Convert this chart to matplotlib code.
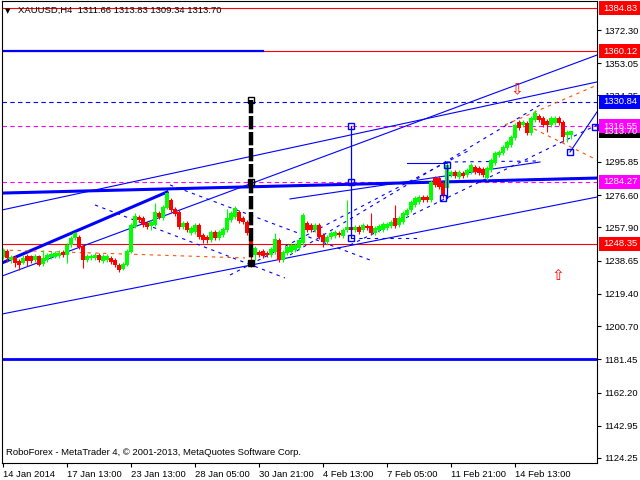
import matplotlib
matplotlib.use("Agg")
import matplotlib.pyplot as plt
from matplotlib.patches import Rectangle

# ---------------- data (XAUUSD H4) ----------------
opens = [1240.7,1244.2,1239.0,1240.7,1238.4,1237.3,1241.3,1241.3,1239.0,1241.3,
         1236.7,1239.0,1240.7,1240.7,1241.3,1243.6,1241.9,1247.7,1251.8,1252.3,
         1247.1,1239.0,1240.2,1240.2,1241.9,1238.4,1239.0,1240.2,1239.0,1236.1,
         1233.8,1236.1,1243.6,1258.1,1263.9,1263.3,1260.5,1258.7,1259.3,1266.2,
         1263.3,1269.1,1273.8,1268.6,1266.8,1258.1,1260.5,1254.7,1255.2,1259.3,
         1253.5,1252.3,1250.6,1255.2,1251.8,1253.5,1256.4,1262.2,1263.9,1266.8,
         1263.3,1261.0,1254.7,1241.9,1243.6,1244.2,1243.1,1241.9,1243.6,1250.6,
         1239.0,1243.1,1243.6,1244.8,1246.0,1248.9,1260.5,1259.3,1256.4,1259.3,
         1253.5,1249.4,1252.3,1252.9,1254.7,1252.9,1256.4,1258.1,1256.4,1258.1,
         1256.4,1258.7,1258.7,1254.7,1256.4,1256.4,1257.6,1258.7,1263.3,1259.3,
         1261.0,1265.1,1268.0,1270.9,1272.6,1275.5,1275.5,1273.8,1286.5,1286.5,
         1283.6,1280.7,1288.3,1290.0,1287.1,1289.4,1288.3,1290.0,1292.9,1292.3,
         1291.7,1286.5,1291.2,1295.2,1299.9,1301.0,1303.9,1305.7,1309.7,1319.0,
         1317.3,1318.4,1312.6,1320.1,1322.5,1321.3,1319.6,1317.3,1318.4,1321.3,
         1319.0,1311.5,1311.66]
closes = [1244.8,1240.2,1240.7,1237.3,1236.1,1240.2,1238.4,1238.4,1241.3,1236.1,
          1240.2,1241.9,1242.5,1243.1,1243.1,1241.9,1247.7,1251.8,1254.7,1246.5,
          1239.0,1241.3,1241.3,1241.9,1239.0,1241.3,1241.3,1237.8,1236.1,1233.2,
          1236.7,1244.2,1259.3,1264.5,1262.2,1259.3,1258.1,1261.0,1266.8,1263.9,
          1269.7,1277.8,1268.0,1265.7,1258.1,1260.5,1256.4,1257.6,1259.3,1252.3,
          1250.6,1250.6,1255.2,1251.8,1255.2,1257.0,1263.3,1266.2,1269.1,1261.6,
          1261.0,1254.7,1240.7,1246.0,1241.9,1241.3,1241.9,1245.4,1251.2,1239.0,
          1243.6,1246.5,1247.7,1247.7,1250.6,1265.1,1256.4,1256.4,1259.3,1252.3,
          1249.4,1252.3,1254.7,1255.2,1253.5,1256.4,1258.1,1256.4,1258.1,1255.2,
          1259.3,1257.6,1254.7,1257.6,1258.7,1259.9,1259.9,1261.0,1258.7,1263.3,
          1266.2,1268.0,1272.6,1274.9,1275.5,1273.8,1273.8,1284.2,1282.5,1281.3,
          1276.7,1294.1,1290.0,1287.7,1290.0,1287.7,1291.2,1294.1,1290.0,1289.4,
          1288.3,1292.3,1297.0,1301.0,1301.6,1304.5,1307.4,1310.3,1317.3,1315.5,
          1319.0,1312.6,1321.3,1324.2,1320.1,1317.3,1317.3,1321.3,1321.3,1318.4,
          1310.3,1313.2,1313.70]
highs = [1246.0,1245.4,1241.9,1241.3,1239.6,1241.9,1242.5,1241.9,1242.5,1241.9,
         1244.8,1243.1,1243.6,1244.2,1244.8,1244.8,1248.9,1252.9,1255.2,1253.5,
         1247.7,1242.5,1242.5,1243.1,1243.1,1242.5,1242.5,1241.3,1240.2,1237.3,
         1237.8,1245.4,1260.5,1266.2,1265.1,1264.5,1261.6,1262.2,1272.1,1267.4,
         1270.9,1278.4,1274.9,1269.7,1268.0,1261.6,1261.6,1258.7,1260.5,1260.5,
         1254.7,1253.5,1256.4,1256.4,1256.4,1258.1,1268.6,1267.4,1270.3,1268.0,
         1264.5,1262.2,1255.8,1247.1,1244.8,1245.4,1244.2,1246.5,1254.7,1251.8,
         1244.8,1247.7,1248.9,1248.9,1251.8,1266.2,1261.6,1260.5,1260.5,1260.5,
         1254.7,1253.5,1255.8,1256.4,1255.8,1257.6,1273.8,1263.3,1259.3,1259.3,
         1260.5,1259.9,1266.2,1258.7,1259.9,1261.0,1261.0,1262.2,1270.9,1264.5,
         1267.4,1269.1,1273.8,1276.1,1276.7,1276.7,1276.7,1285.4,1287.7,1287.7,
         1284.8,1295.2,1291.2,1291.2,1291.2,1290.6,1292.3,1295.2,1294.1,1293.5,
         1292.9,1293.5,1298.1,1302.2,1302.8,1305.7,1308.6,1311.5,1318.4,1320.1,
         1320.1,1319.6,1322.5,1325.9,1323.6,1322.5,1320.7,1322.5,1322.5,1322.5,
         1320.1,1314.3,1313.83]
lows = [1239.6,1237.8,1237.3,1234.9,1233.2,1236.7,1235.5,1237.3,1237.8,1235.5,
        1235.5,1237.8,1239.6,1240.2,1240.2,1240.7,1237.3,1246.5,1250.6,1245.4,
        1234.4,1237.8,1239.0,1239.0,1237.8,1237.3,1237.8,1236.7,1234.9,1232.0,
        1233.2,1235.5,1243.1,1257.6,1261.0,1258.1,1257.0,1256.4,1258.7,1262.8,
        1262.2,1268.6,1266.8,1264.5,1257.0,1257.0,1255.2,1253.5,1254.1,1251.2,
        1248.9,1248.9,1249.4,1250.6,1250.6,1252.3,1255.2,1261.0,1262.8,1260.5,
        1259.9,1253.5,1234.9,1239.0,1240.7,1240.2,1240.7,1240.7,1242.5,1237.8,
        1237.8,1241.9,1242.5,1243.6,1244.8,1247.7,1255.2,1255.2,1255.2,1251.2,
        1246.5,1248.3,1251.2,1251.8,1252.3,1251.8,1255.2,1255.2,1255.2,1254.1,
        1255.2,1256.4,1253.5,1253.5,1255.2,1255.2,1256.4,1257.6,1257.6,1258.1,
        1259.9,1263.9,1266.8,1269.7,1271.5,1272.6,1272.6,1272.6,1281.3,1280.2,
        1274.9,1279.6,1287.1,1286.5,1285.9,1286.5,1287.1,1288.8,1288.8,1288.3,
        1287.1,1285.4,1290.0,1294.1,1298.7,1299.9,1302.8,1304.5,1308.6,1314.3,
        1316.1,1311.5,1311.5,1319.0,1319.0,1316.1,1313.2,1316.1,1317.3,1317.3,
        1307.4,1307.4,1309.34]

date_ticks = [0, 16, 32, 48, 64, 80, 96, 112, 128]
date_labels = ["14 Jan 2014", "17 Jan 13:00", "23 Jan 13:00", "28 Jan 05:00",
               "30 Jan 21:00", "4 Feb 13:00", "7 Feb 05:00", "11 Feb 21:00",
               "14 Feb 13:00"]
price_ticks = [1372.30, 1353.05, 1334.35, 1315.10, 1295.85, 1276.60, 1257.90,
               1238.65, 1219.40, 1200.70, 1181.45, 1162.20, 1142.95, 1124.25]

# horizontal levels: (price, color, style, width)
levels = [(1384.83, "#ff0000", "-", 0.8), (1360.12, "#ff0000", "-", 0.8),
          (1330.84, "#0000ff", "--", 0.8), (1316.55, "#ff00ff", "--", 0.8),
          (1284.27, "#ff00ff", "--", 0.8), (1248.35, "#ff0000", "-", 0.8),
          (1181.45, "#0000ff", "-", 2.0)]
# boxed price labels on the scale: (price, box colour)
price_boxes = [(1384.83, "#ff0000"), (1360.12, "#ff0000"), (1330.84, "#0000ff"),
               (1313.70, "#000000"), (1316.55, "#ff00ff"), (1284.27, "#ff00ff"),
               (1248.35, "#ff0000")]

# analysis drawings: ((bar, price), (bar, price))
solid_lines = [((-0.25, 1207.7), (148.5, 1275.5)),
               ((-0.25, 1229.7), (148.5, 1357.8)),
               ((-0.25, 1268.0), (148.5, 1342.2)),
               ((141.75, 1301.6), (148.5, 1324.8)),
               ((101.0, 1295.2), (111.0, 1295.2)),
               ((71.75, 1274.4), (134.25, 1295.8))]
medium_lines = [((-0.25, 1360.12), (65.0, 1360.12))]
thick_lines = [((-0.25, 1277.8), (148.5, 1286.5)),
               ((-0.25, 1237.3), (41.0, 1278.4))]
dashed_blue = [((23.0, 1270.9), (70.5, 1228.6)),
               ((41.75, 1282.5), (91.75, 1239.0)),
               ((56.75, 1230.3), (116.75, 1302.8)),
               ((71.75, 1241.9), (134.25, 1328.8)),
               ((86.75, 1247.7), (148.5, 1317.3)),
               ((87.0, 1251.8), (104.25, 1251.8)),
               ((111.0, 1295.8), (134.0, 1296.4))]
dashed_orange = [((-0.25, 1244.8), (60.5, 1240.2)),
                 ((125.5, 1317.3), (148.5, 1340.4)),
                 ((129.25, 1319.0), (148.5, 1297.0))]

# ---------------- figure ----------------
fig = plt.figure(figsize=(6.4, 4.8), dpi=100)
ax = fig.add_axes([2 / 640, 17 / 480, 595 / 640, 462 / 480])
ax.set_xlim(-0.25, 148.5)
ax.set_ylim(1121.35, 1389.12)
FONT = "Liberation Sans"
FS = 6.8

for p, c, ls, lw in levels:
    ax.axhline(p, color=c, lw=lw, ls=(0, (4, 3)) if ls == "--" else "-", zorder=1)

for (x0, y0), (x1, y1) in solid_lines:
    ax.plot([x0, x1], [y0, y1], color="#0000ff", lw=0.8, zorder=1.2)
for (x0, y0), (x1, y1) in medium_lines:
    ax.plot([x0, x1], [y0, y1], color="#0000ff", lw=1.6, zorder=1.3)
for (x0, y0), (x1, y1) in thick_lines:
    ax.plot([x0, x1], [y0, y1], color="#0000ff", lw=2.2, zorder=1.2)
for (x0, y0), (x1, y1) in dashed_blue:
    ax.plot([x0, x1], [y0, y1], color="#0000ff", lw=0.8, ls=(0, (3, 4)), zorder=1.2)
for (x0, y0), (x1, y1) in dashed_orange:
    ax.plot([x0, x1], [y0, y1], color="#ff5000", lw=0.8, ls=(0, (3, 4)), zorder=1.2)

# candles
for i, (o, h, l, c) in enumerate(zip(opens, highs, lows, closes)):
    col = "#00ff00" if c >= o else "#ff0000"
    ax.vlines(i, l, h, color=col, lw=0.8, zorder=2)
    body = max(abs(c - o), 0.6)
    ax.add_patch(Rectangle((i - 0.38, min(o, c)), 0.76, body, facecolor=col,
                           edgecolor="none", zorder=2.1))

# vertical measurement lines
ax.plot([62, 62], [1331.7, 1237.3], color="black", lw=3.2, ls=(0, (3, 0.6)), zorder=3)
ax.plot([87, 87], [1316.55, 1251.8], color="#0000ff", lw=0.9, zorder=3)
ax.plot([111, 111], [1294.1, 1274.9], color="#0000ff", lw=0.9, zorder=3)
for bx, by, ec, fc in [(62, 1331.7, "black", "none"), (62, 1284.2, "black", "none"),
                       (62, 1237.3, "black", "black"), (87, 1316.55, "#0000ff", "none"),
                       (87, 1284.2, "#0000ff", "none"), (87, 1251.8, "#0000ff", "none"),
                       (111, 1294.1, "#0000ff", "none"), (110, 1274.9, "#0000ff", "none"),
                       (141.75, 1301.6, "#0000ff", "none"), (148.0, 1316.0, "#0000ff", "none")]:
    ax.plot(bx, by, marker="s", ms=4.5, mec=ec, mfc=fc, mew=1.0, zorder=3.5,
            clip_on=False)

# arrows
ax.text(128.5, 1337.5, "\u21e9", color="#ff0000", fontsize=11, ha="center",
        va="center", family="DejaVu Sans", zorder=4)
ax.text(138.75, 1230.3, "\u21e7", color="#ff0000", fontsize=11, ha="center",
        va="center", family="DejaVu Sans", zorder=4)

# axes styling
for s in ax.spines.values():
    s.set_linewidth(0.8)
ax.yaxis.tick_right()
ax.set_yticks(price_ticks)
ax.set_yticklabels([f"{v:.2f}" for v in price_ticks], fontsize=FS, family=FONT)
ax.tick_params(axis="y", length=3, width=0.8, pad=2)
ax.set_xticks(date_ticks)
ax.set_xticklabels(date_labels, fontsize=FS, family=FONT, ha="left")
ax.tick_params(axis="x", length=3, width=0.8, pad=2)

ytr = ax.get_yaxis_transform()
px = 267.77 / 462.0
for p, c in price_boxes:
    ax.add_patch(Rectangle((1.0034, p - 7 * px), 0.0690, 14 * px, transform=ytr,
                           facecolor=c, edgecolor="none", clip_on=False, zorder=4))
    ax.text(1.0101, p, f"{p:.2f}", transform=ytr, color="white", fontsize=FS,
            family=FONT, va="center", ha="left", clip_on=False, zorder=5)

ax.text(0.005, 0.985, "\u25bc", transform=ax.transAxes, fontsize=5, family="DejaVu Sans",
        va="top", ha="left")
ax.text(0.027, 0.989, "XAUUSD,H4  1311.66 1313.83 1309.34 1313.70", transform=ax.transAxes,
        fontsize=FS, family=FONT, va="top", ha="left")
ax.text(0.006, 0.012, "RoboForex - MetaTrader 4, \u00a9 2001-2013, MetaQuotes Software Corp.",
        transform=ax.transAxes, fontsize=FS, family=FONT, va="bottom", ha="left")

fig.savefig("out.png", dpi=100)
